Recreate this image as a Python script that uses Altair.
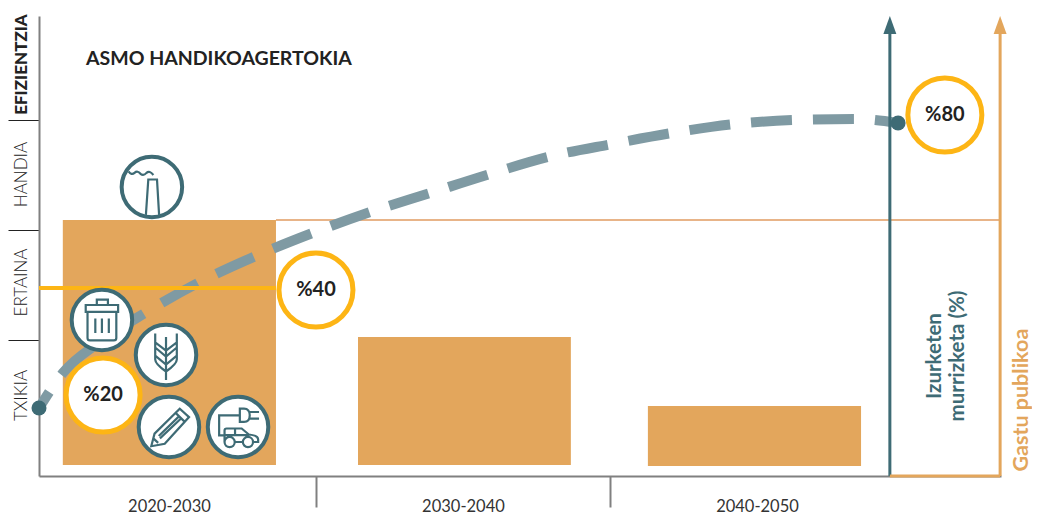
import altair as alt
import pandas as pd

TEAL = "#3E6B75"
DASH = "#7F9AA3"
ORANGE = "#E3A65C"
THIN = "#E8B488"
YELLOW = "#FDB515"
INK = "#222222"
GREY = "#808080"
FONT = "Lato"

X_DOMAIN = [2020.58, 2053.30]
Y_DOMAIN = [0, 100]

# bars: public spending per decade
bar_x = [2021.39, 2031.43, 2041.29]
bar_x2 = [2028.64, 2038.67, 2048.54]
bar_top = [55.65, 30.22, 15.22]
bar_bottom = [2.39, 2.39, 2.17]

# dashed emissions-reduction curve
curve_x = [2020.58, 2021.39, 2022.65, 2024.18, 2026.05, 2028.03, 2029.97, 2031.84,
           2033.88, 2035.92, 2038.03, 2040.07, 2042.11, 2044.25, 2046.29, 2048.33, 2049.80]
curve_y = [14.78, 22.39, 29.13, 35.43, 42.17, 48.04, 53.04, 57.39,
           61.52, 65.65, 69.57, 72.17, 74.57, 76.52, 77.39, 77.61, 76.74]

endpoint_x = [2020.58, 2049.80]
endpoint_y = [14.78, 76.74]

pct_labels = ["%20", "%40", "%80"]
pct_x = [2022.76, 2030.00, 2051.39]
pct_y = [17.61, 40.43, 78.48]

icon_names = ["chimney", "trash", "wheat", "pencil", "car"]
icon_x = [2024.42, 2022.72, 2024.90, 2025.00, 2027.35]
icon_y = [62.83, 33.91, 26.30, 10.65, 10.65]

ICON_PATHS = {
    "chimney": "M-.2,.93 L-.12,-.25 H.17 L.24,.93 M-.78,-.52 Q-.68,-.38 -.58,-.47 Q-.48,-.56 -.38,-.44 Q-.28,-.36 -.18,-.47 Q-.08,-.56 .05,-.4",
    "trash": "M-.54,-.27 V-.5 H.54 V-.27 Z M-.17,-.5 V-.68 H.2 V-.5 M-.48,-.27 V.6 Q-.48,.68 -.4,.68 H.4 Q.48,.68 .48,.6 V-.27 M-.22,-.05 V.43 M0,-.05 V.43 M.23,-.05 V.43",
    "wheat": "M0,-.6 V.83 M-.36,-.72 V.15 Q-.36,.3 0,.55 Q.36,.3 .36,.15 V-.72 M-.36,-.25 L0,.05 L.36,-.25 M-.36,.02 L0,.32 L.36,.02 M-.36,-.42 L0,-.15 L.36,-.42",
    "pencil": "M-.59,.64 L-.48,.22 L.36,-.61 L.67,-.33 L-.14,.56 Z M.22,-.47 L.52,-.18 M-.34,.3 L.36,-.38 M-.52,.38 L-.36,.53 M-.3,.38 L.42,-.3",
    "car": "M.06,-.39 H-.63 V.28 H-.48 M.06,-.61 H.2 Q.39,-.61 .39,-.39 Q.39,-.17 .2,-.17 H.06 Z M.39,-.5 H.7 M.39,-.28 H.7 "
           "M-.45,.5 V.12 Q-.45,.05 -.38,.05 H.12 L.36,.25 Q.67,.28 .67,.42 V.5 H.5 M.16,.5 H-.11 M-.45,.27 H.36 M-.1,.05 V.27 "
           "M-.11,.5 A.17,.17 0 1 1 -.45,.5 A.17,.17 0 1 1 -.11,.5 M.5,.5 A.17,.17 0 1 1 .16,.5 A.17,.17 0 1 1 .5,.5",
}

x_tick_values = [2025, 2030, 2035, 2040, 2045]
x_tick_labels = ["2020-2030", "", "2030-2040", "", "2040-2050"]
x_ticks_shown = [2030, 2040]

y_tick_values = [17.61, 29.57, 42.17, 53.48, 65.65, 77.39, 89.57]
y_tick_labels = ["TXIKIA", "", "ERTAINA", "", "HANDIA", "", "EFIZIENTZIA"]
y_ticks_shown = [29.57, 53.48, 77.39]

title_text = ["ASMO HANDIKOAGERTOKIA"]
title_x = [2022.18]
title_y = [90.65]

side_text = ["Izurketen", "murrizketa (%)"]
side_x = [2051.05, 2051.85]
side_y = [26.09, 26.09]
gastu_text = ["Gastu publikoa"]
gastu_x = [2054.01]
gastu_y = [16.50]

yellow_x, yellow_x2, yellow_y = [2020.58], [2028.64], [40.87]
thin_x, thin_x2, thin_y = [2028.64], [2053.27], [55.65]
teal_x, orange_x = [2049.52], [2053.27]
arrow_base, arrow_top = [0], [96.5]
arrow_tip_y = [98.04]


def label_expr(values, labels):
    out = "''"
    for v, l in zip(values, labels):
        out = f"datum.value=={v}?'{l}':{out}"
    return out


def member_test(values):
    return "||".join(f"datum.value=={v}" for v in values)


x_axis = alt.Axis(
    title=None, grid=False, values=x_tick_values, labelExpr=label_expr(x_tick_values, x_tick_labels),
    domainColor=GREY, domainWidth=2, tickColor=GREY, tickWidth=2, tickSize=31,
    tickOpacity={"condition": {"test": member_test(x_ticks_shown), "value": 1}, "value": 0},
    labelFont=FONT, labelFontSize=16.5, labelColor="#333333", labelPadding=-9, labelFlush=False, labelOverlap=False,
)
y_axis = alt.Axis(
    title=None, grid=False, values=y_tick_values, labelExpr=label_expr(y_tick_values, y_tick_labels),
    domainColor=GREY, domainWidth=2, tickColor="#222222", tickWidth=1, tickSize=31,
    tickOpacity={"condition": {"test": member_test(y_ticks_shown), "value": 1}, "value": 0},
    labelFont=FONT, labelFontSize=17, labelColor="#222222", labelAngle=270, labelAlign="center",
    labelBaseline="alphabetic", labelPadding=-18, labelFlush=False, labelOverlap=False,
    labelFontWeight={"condition": {"test": "datum.value==89.57", "value": 900}, "value": 300},
)

X = lambda f="x": alt.X(f"{f}:Q", scale=alt.Scale(domain=X_DOMAIN, nice=False, zero=False), axis=x_axis)
Y = lambda f="y": alt.Y(f"{f}:Q", scale=alt.Scale(domain=Y_DOMAIN, nice=False), axis=y_axis)

bars = alt.Chart(pd.DataFrame({"x": bar_x, "x2": bar_x2, "y": bar_top, "y2": bar_bottom})).mark_rect(color=ORANGE).encode(
    x=X(), x2="x2:Q", y=Y(), y2="y2:Q",
)

thin = alt.Chart(pd.DataFrame({"x": thin_x, "x2": thin_x2, "y": thin_y})).mark_rule(color=THIN, strokeWidth=2).encode(
    x=X(), x2="x2:Q", y=Y())

curve = alt.Chart(pd.DataFrame({"x": curve_x, "y": curve_y, "i": range(len(curve_x))})).mark_line(
    color=DASH, strokeWidth=10, strokeDash=[41, 21], strokeDashOffset=22, interpolate="monotone", strokeCap="butt"
).encode(x=X(), y=Y(), order="i:Q")

yellow = alt.Chart(pd.DataFrame({"x": yellow_x, "x2": yellow_x2, "y": yellow_y})).mark_rule(color=YELLOW, strokeWidth=4).encode(
    x=X(), x2="x2:Q", y=Y())

teal_line = alt.Chart(pd.DataFrame({"x": teal_x, "y": arrow_base, "y2": arrow_top})).mark_rule(color=TEAL, strokeWidth=3).encode(
    x=X(), y=Y(), y2="y2:Q")
orange_line = alt.Chart(pd.DataFrame({"x": orange_x, "y": arrow_base, "y2": arrow_top})).mark_rule(color=ORANGE, strokeWidth=3).encode(
    x=X(), y=Y(), y2="y2:Q")
orange_base = alt.Chart(pd.DataFrame({"x": teal_x, "x2": orange_x, "y": arrow_base})).mark_rule(color=ORANGE, strokeWidth=3).encode(
    x=X(), x2="x2:Q", y=Y())

ARROW = "M0,-1 L.72,1 H-.72 Z"
teal_head = alt.Chart(pd.DataFrame({"x": teal_x, "y": arrow_tip_y})).mark_point(
    shape=ARROW, size=324, filled=True, color=TEAL, opacity=1).encode(x=X(), y=Y())
orange_head = alt.Chart(pd.DataFrame({"x": orange_x, "y": arrow_tip_y})).mark_point(
    shape=ARROW, size=324, filled=True, color=ORANGE, opacity=1).encode(x=X(), y=Y())

endpoints = alt.Chart(pd.DataFrame({"x": endpoint_x, "y": endpoint_y})).mark_circle(
    size=225, color=TEAL, opacity=1).encode(x=X(), y=Y())

pct_df = pd.DataFrame({"x": pct_x, "y": pct_y, "t": pct_labels})
pct_circles = alt.Chart(pct_df).mark_point(
    shape="circle", size=5476, filled=True, fill="white", stroke=YELLOW, strokeWidth=5, opacity=1
).encode(x=X(), y=Y())
pct_text = alt.Chart(pct_df).mark_text(font=FONT, fontSize=20, fontWeight="bold", color=INK).encode(
    x=X(), y=Y(), text="t:N")

icon_df = pd.DataFrame({"x": icon_x, "y": icon_y, "icon": [ICON_PATHS[n] for n in icon_names]})
icon_circles = alt.Chart(icon_df).mark_point(
    shape="circle", size=3660, filled=True, fill="white", stroke=TEAL, strokeWidth=4, opacity=1
).encode(x=X(), y=Y())
icons = alt.Chart(icon_df).mark_point(
    size=3600, filled=False, stroke=TEAL, strokeWidth=2.2, opacity=1
).encode(x=X(), y=Y(), shape=alt.Shape("icon:N", scale=None, legend=None))

title = alt.Chart(pd.DataFrame({"x": title_x, "y": title_y, "t": title_text})).mark_text(
    font=FONT, fontSize=19.5, fontWeight="bold", color=INK, align="left").encode(x=X(), y=Y(), text="t:N")

side = alt.Chart(pd.DataFrame({"x": side_x, "y": side_y, "t": side_text})).mark_text(
    font=FONT, fontSize=20.5, fontWeight="bold", angle=270, align="center", baseline="middle", color=TEAL).encode(
    x=X(), y=Y(), text="t:N")
gastu = alt.Chart(pd.DataFrame({"x": gastu_x, "y": gastu_y, "t": gastu_text})).mark_text(
    font=FONT, fontSize=21.5, fontWeight="bold", angle=270, align="center", baseline="middle", color=ORANGE).encode(
    x=X(), y=Y(), text="t:N")

chart = alt.layer(
    bars, thin, curve, yellow, teal_line, orange_line, orange_base, teal_head, orange_head,
    endpoints, icon_circles, icons, pct_circles, pct_text, title, side, gastu,
).properties(
    width=962, height=460,
    padding={"left": 31, "top": 8, "right": 31, "bottom": 39},
    autosize=alt.AutoSizeParams(type="none"),
).configure_view(stroke=None)

chart.save("out.html", embed_options={"renderer": "svg", "actions": False})
